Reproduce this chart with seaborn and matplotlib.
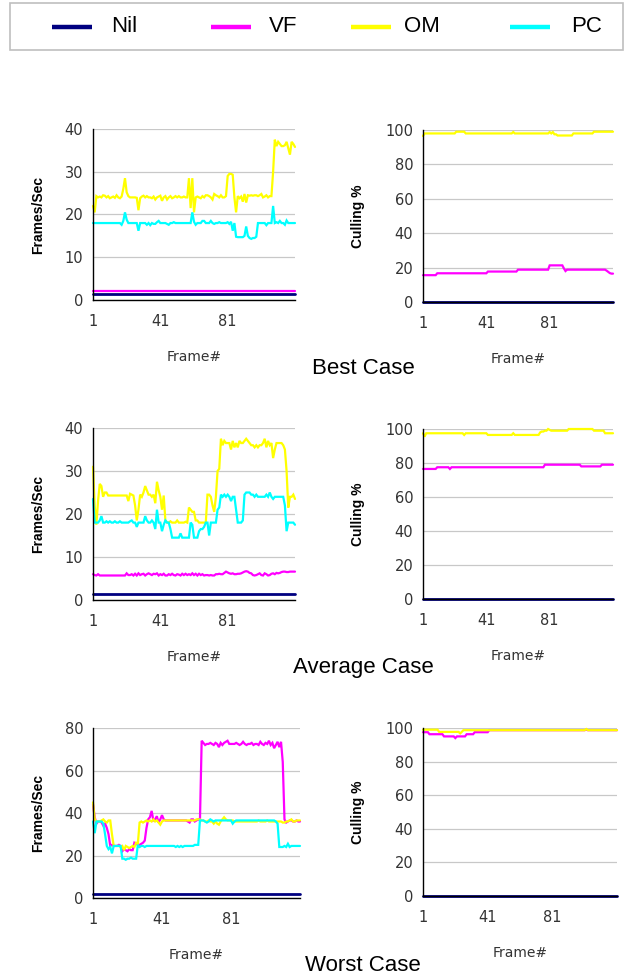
import numpy as np
import pandas as pd
import matplotlib
matplotlib.use("Agg")
import matplotlib.pyplot as plt
from matplotlib.lines import Line2D
from matplotlib.patches import Rectangle
import seaborn as sns

# ---------------- data ----------------
methods = ["Nil", "VF", "OM", "PC"]
colors = {"Nil": "#000080", "VF": "#FF00FF", "OM": "#FFFF00", "PC": "#00FFFF"}
x_ticks = [1, 21, 41, 61, 81, 101, 121]
x_tick_labels = ["1", "", "41", "", "81", "", ""]
case_titles = ["Best Case", "Average Case", "Worst Case"]

best_fps_nil = [
    1.5, 1.5, 1.5, 1.5, 1.5, 1.5, 1.5, 1.5, 1.5, 1.5,
    1.5, 1.5, 1.5, 1.5, 1.5, 1.5, 1.5, 1.5, 1.5, 1.5,
    1.5, 1.5, 1.5, 1.5, 1.5, 1.5, 1.5, 1.5, 1.5, 1.5,
    1.5, 1.5, 1.5, 1.5, 1.5, 1.5, 1.5, 1.5, 1.5, 1.5,
    1.5, 1.5, 1.5, 1.5, 1.5, 1.5, 1.5, 1.5, 1.5, 1.5,
    1.5, 1.5, 1.5, 1.5, 1.5, 1.5, 1.5, 1.5, 1.5, 1.5,
    1.5, 1.5, 1.5, 1.5, 1.5, 1.5, 1.5, 1.5, 1.5, 1.5,
    1.5, 1.5, 1.5, 1.5, 1.5, 1.5, 1.5, 1.5, 1.5, 1.5,
    1.5, 1.5, 1.5, 1.5, 1.5, 1.5, 1.5, 1.5, 1.5, 1.5,
    1.5, 1.5, 1.5, 1.5, 1.5, 1.5, 1.5, 1.5, 1.5, 1.5,
    1.5, 1.5, 1.5, 1.5, 1.5, 1.5, 1.5, 1.5, 1.5, 1.5,
    1.5, 1.5, 1.5, 1.5, 1.5, 1.5, 1.5, 1.5, 1.5, 1.5,
    1.5]
best_fps_vf = [
    2.0, 2.0, 2.0, 2.0, 2.0, 2.0, 2.0, 2.0, 2.0, 2.0,
    2.0, 2.0, 2.0, 2.0, 2.0, 2.0, 2.0, 2.0, 2.0, 2.0,
    2.0, 2.0, 2.0, 2.0, 2.0, 2.0, 2.0, 2.0, 2.0, 2.0,
    2.0, 2.0, 2.0, 2.0, 2.0, 2.0, 2.0, 2.0, 2.0, 2.0,
    2.0, 2.0, 2.0, 2.0, 2.0, 2.0, 2.0, 2.0, 2.0, 2.0,
    2.0, 2.0, 2.0, 2.0, 2.0, 2.0, 2.0, 2.0, 2.0, 2.0,
    2.0, 2.0, 2.0, 2.0, 2.0, 2.0, 2.0, 2.0, 2.0, 2.0,
    2.0, 2.0, 2.0, 2.0, 2.0, 2.0, 2.0, 2.0, 2.0, 2.0,
    2.0, 2.0, 2.0, 2.0, 2.0, 2.0, 2.0, 2.0, 2.0, 2.0,
    2.0, 2.0, 2.0, 2.0, 2.0, 2.0, 2.0, 2.0, 2.0, 2.0,
    2.0, 2.0, 2.0, 2.0, 2.0, 2.0, 2.0, 2.0, 2.0, 2.0,
    2.0, 2.0, 2.0, 2.0, 2.0, 2.0, 2.0, 2.0, 2.0, 2.0,
    2.0]
best_fps_om = [
    22.0, 20.5, 24.3, 24.0, 24.2, 24.0, 24.5, 24.4, 24.0, 24.3,
    23.8, 24.0, 24.2, 23.9, 24.5, 24.0, 23.8, 24.2, 26.0, 28.5,
    25.2, 24.3, 24.0, 24.0, 24.0, 24.0, 23.9, 21.0, 23.8, 24.2,
    24.4, 24.0, 24.3, 24.0, 24.0, 23.8, 24.2, 23.5, 24.0, 24.2,
    24.4, 23.2, 24.0, 24.3, 23.5, 24.0, 24.3, 23.8, 24.0, 24.3,
    24.0, 24.3, 24.0, 24.0, 24.2, 24.0, 24.0, 28.5, 21.5, 28.5,
    20.5, 24.0, 24.2, 24.0, 23.8, 24.3, 24.0, 24.5, 24.5, 24.3,
    24.0, 23.5, 24.8, 24.5, 24.3, 24.0, 24.5, 24.0, 24.0, 24.3,
    29.0, 29.5, 29.5, 29.3, 24.0, 20.5, 24.3, 23.8, 24.2, 23.0,
    24.8, 22.8, 24.5, 24.4, 24.5, 24.4, 24.5, 24.5, 24.3, 24.5,
    24.8, 24.0, 24.2, 24.5, 24.0, 24.3, 24.3, 30.0, 37.5, 36.0,
    37.0, 36.5, 36.0, 36.0, 36.2, 37.0, 35.5, 34.0, 37.0, 36.5,
    35.8]
best_fps_pc = [
    18.0, 18.0, 18.0, 18.0, 18.0, 18.0, 18.0, 18.0, 18.0, 18.0,
    18.0, 18.0, 18.0, 18.0, 18.0, 18.0, 18.0, 17.6, 18.5, 20.5,
    18.8, 18.0, 18.0, 18.0, 18.0, 18.0, 18.0, 16.2, 18.0, 18.0,
    18.0, 18.0, 17.6, 18.0, 17.5, 18.0, 17.8, 17.8, 18.2, 18.5,
    18.0, 18.0, 18.0, 18.0, 17.8, 17.6, 18.0, 18.0, 18.2, 18.0,
    18.0, 18.0, 18.0, 18.0, 18.0, 18.0, 18.0, 18.0, 18.0, 20.5,
    18.3, 17.6, 18.0, 18.0, 18.0, 18.5, 18.5, 18.0, 18.0, 18.0,
    18.5, 18.0, 17.8, 18.0, 18.0, 18.2, 18.0, 18.0, 18.0, 18.0,
    18.2, 17.8, 18.3, 16.2, 18.0, 14.8, 14.7, 14.7, 14.7, 14.7,
    15.0, 17.2, 15.0, 14.5, 14.3, 14.5, 14.5, 14.8, 18.0, 18.0,
    18.0, 18.0, 18.0, 17.5, 18.0, 18.0, 18.0, 22.0, 18.0, 18.2,
    18.0, 18.5, 18.0, 18.0, 17.6, 18.6, 18.0, 18.0, 18.0, 18.0,
    18.0]

best_cull_nil = [
    0, 0, 0, 0, 0, 0, 0, 0, 0, 0,
    0, 0, 0, 0, 0, 0, 0, 0, 0, 0,
    0, 0, 0, 0, 0, 0, 0, 0, 0, 0,
    0, 0, 0, 0, 0, 0, 0, 0, 0, 0,
    0, 0, 0, 0, 0, 0, 0, 0, 0, 0,
    0, 0, 0, 0, 0, 0, 0, 0, 0, 0,
    0, 0, 0, 0, 0, 0, 0, 0, 0, 0,
    0, 0, 0, 0, 0, 0, 0, 0, 0, 0,
    0, 0, 0, 0, 0, 0, 0, 0, 0, 0,
    0, 0, 0, 0, 0, 0, 0, 0, 0, 0,
    0, 0, 0, 0, 0, 0, 0, 0, 0, 0,
    0, 0, 0, 0, 0, 0, 0, 0, 0, 0,
    0]
best_cull_vf = [
    15.6, 15.6, 15.6, 15.6, 15.6, 15.6, 15.6, 15.6, 15.6, 16.7,
    16.7, 16.7, 16.7, 16.7, 16.7, 16.7, 16.7, 16.7, 16.7, 16.7,
    16.7, 16.7, 16.7, 16.7, 16.7, 16.7, 16.7, 16.7, 16.7, 16.7,
    16.7, 16.7, 16.7, 16.7, 16.7, 16.7, 16.7, 16.7, 16.7, 16.7,
    16.7, 17.7, 17.7, 17.7, 17.7, 17.7, 17.7, 17.7, 17.7, 17.7,
    17.7, 17.7, 17.7, 17.7, 17.7, 17.7, 17.7, 17.7, 17.7, 17.7,
    18.8, 18.8, 18.8, 18.8, 18.8, 18.8, 18.8, 18.8, 18.8, 18.8,
    18.8, 18.8, 18.8, 18.8, 18.8, 18.8, 18.8, 18.8, 18.8, 18.8,
    21.3, 21.3, 21.3, 21.3, 21.3, 21.3, 21.3, 21.3, 21.3, 19.5,
    18.0, 18.8, 18.8, 18.8, 18.8, 18.8, 18.8, 18.8, 18.8, 18.8,
    18.8, 18.8, 18.8, 18.8, 18.8, 18.8, 18.8, 18.8, 18.8, 18.8,
    18.8, 18.8, 18.8, 18.8, 18.8, 18.8, 18.2, 17.5, 16.8, 16.5,
    16.5]
best_cull_om = [
    96.5, 98.0, 98.0, 98.0, 98.0, 98.0, 98.0, 98.0, 98.0, 98.0,
    98.0, 98.0, 98.0, 98.0, 98.0, 98.0, 98.0, 98.0, 98.0, 98.0,
    98.0, 99.0, 99.0, 99.0, 99.0, 99.0, 99.0, 98.0, 98.0, 98.0,
    98.0, 98.0, 98.0, 98.0, 98.0, 98.0, 98.0, 98.0, 98.0, 98.0,
    98.0, 98.0, 98.0, 98.0, 98.0, 98.0, 98.0, 98.0, 98.0, 98.0,
    98.0, 98.0, 98.0, 98.0, 98.0, 98.0, 98.0, 98.8, 98.0, 98.0,
    98.0, 98.0, 98.0, 98.0, 98.0, 98.0, 98.0, 98.0, 98.0, 98.0,
    98.0, 98.0, 98.0, 98.0, 98.0, 98.0, 98.0, 98.0, 98.0, 98.0,
    98.8, 98.0, 98.8, 97.5, 97.5, 96.8, 96.8, 96.8, 96.8, 96.8,
    96.8, 96.8, 96.8, 96.8, 96.8, 98.0, 98.0, 98.0, 98.0, 98.0,
    98.0, 98.0, 98.0, 98.0, 98.0, 98.0, 98.0, 98.0, 99.0, 99.0,
    99.0, 99.0, 99.0, 99.0, 99.0, 99.0, 99.0, 99.0, 99.0, 99.0,
    99.0]

avg_fps_nil = [
    1.3, 1.3, 1.3, 1.3, 1.3, 1.3, 1.3, 1.3, 1.3, 1.3,
    1.3, 1.3, 1.3, 1.3, 1.3, 1.3, 1.3, 1.3, 1.3, 1.3,
    1.3, 1.3, 1.3, 1.3, 1.3, 1.3, 1.3, 1.3, 1.3, 1.3,
    1.3, 1.3, 1.3, 1.3, 1.3, 1.3, 1.3, 1.3, 1.3, 1.3,
    1.3, 1.3, 1.3, 1.3, 1.3, 1.3, 1.3, 1.3, 1.3, 1.3,
    1.3, 1.3, 1.3, 1.3, 1.3, 1.3, 1.3, 1.3, 1.3, 1.3,
    1.3, 1.3, 1.3, 1.3, 1.3, 1.3, 1.3, 1.3, 1.3, 1.3,
    1.3, 1.3, 1.3, 1.3, 1.3, 1.3, 1.3, 1.3, 1.3, 1.3,
    1.3, 1.3, 1.3, 1.3, 1.3, 1.3, 1.3, 1.3, 1.3, 1.3,
    1.3, 1.3, 1.3, 1.3, 1.3, 1.3, 1.3, 1.3, 1.3, 1.3,
    1.3, 1.3, 1.3, 1.3, 1.3, 1.3, 1.3, 1.3, 1.3, 1.3,
    1.3, 1.3, 1.3, 1.3, 1.3, 1.3, 1.3, 1.3, 1.3, 1.3,
    1.3]
avg_fps_vf = [
    6.0, 5.8, 5.7, 6.0, 5.7, 5.7, 5.7, 5.7, 5.7, 5.7,
    5.7, 5.7, 5.7, 5.7, 5.7, 5.7, 5.7, 5.7, 5.7, 5.7,
    6.2, 5.8, 5.8, 6.0, 5.7, 6.1, 5.7, 6.2, 5.8, 6.0,
    6.1, 5.7, 6.0, 6.2, 6.0, 5.8, 6.1, 6.0, 6.2, 5.7,
    6.0, 5.8, 6.1, 5.7, 5.7, 6.0, 5.8, 6.1, 5.8, 5.7,
    6.0, 5.9, 5.7, 6.1, 5.8, 6.1, 5.8, 6.0, 5.8, 6.2,
    5.8, 6.1, 5.7, 6.1, 5.8, 6.0, 5.7, 5.8, 5.8, 5.7,
    5.8, 5.7, 5.7, 6.0, 6.0, 6.1, 6.0, 6.0, 6.3, 6.6,
    6.4, 6.2, 6.1, 6.2, 6.0, 6.0, 6.1, 6.1, 6.2, 6.4,
    6.6, 6.7, 6.6, 6.3, 6.2, 5.8, 5.7, 5.8, 6.0, 6.2,
    5.8, 5.7, 6.2, 6.0, 5.7, 5.8, 6.1, 6.2, 6.0, 6.3,
    6.2, 6.3, 6.5, 6.6, 6.6, 6.5, 6.5, 6.6, 6.6, 6.6,
    6.6]
avg_fps_om = [
    31.0, 22.0, 17.5, 23.0, 27.0, 26.5, 24.0, 25.0, 25.0, 24.3,
    24.3, 24.3, 24.3, 24.3, 24.3, 24.3, 24.3, 24.3, 24.3, 24.3,
    24.3, 23.0, 24.7, 24.5, 24.3, 22.0, 18.5, 21.0, 24.5, 24.0,
    25.0, 26.5, 25.5, 24.5, 24.5, 24.0, 24.5, 22.5, 27.5, 25.5,
    24.0, 21.0, 24.3, 18.5, 18.0, 18.0, 18.3, 18.0, 18.0, 18.0,
    18.5, 18.0, 18.0, 18.0, 18.0, 18.2, 18.0, 21.5, 21.0, 20.5,
    20.5, 18.5, 18.5, 18.0, 18.0, 18.0, 18.0, 18.0, 24.5, 24.5,
    24.0, 22.0, 20.5, 24.0, 30.0, 30.5, 37.5, 36.0, 37.0, 36.5,
    36.5, 36.5, 35.0, 37.0, 35.5, 36.5, 35.5, 37.0, 36.5, 36.5,
    37.0, 37.5, 37.0, 36.5, 36.0, 36.0, 35.5, 36.0, 35.5, 36.0,
    36.0, 36.5, 37.5, 35.5, 37.0, 36.0, 36.5, 33.0, 35.0, 36.5,
    36.5, 36.5, 36.5, 36.0, 35.0, 30.0, 21.5, 24.0, 24.0, 24.5,
    23.5]
avg_fps_pc = [
    23.5, 18.0, 18.0, 18.0, 18.5, 19.5, 18.0, 18.0, 18.3, 18.0,
    18.3, 18.0, 18.0, 18.3, 18.0, 18.0, 18.3, 18.0, 18.0, 18.0,
    18.0, 18.0, 18.3, 18.5, 18.0, 18.0, 17.0, 18.0, 18.0, 18.0,
    18.0, 19.5, 18.5, 18.0, 18.0, 18.5, 18.0, 16.5, 21.0, 18.0,
    18.0, 16.0, 17.5, 18.5, 18.0, 18.0, 16.5, 14.5, 14.5, 14.5,
    14.5, 14.5, 15.5, 14.5, 14.5, 14.5, 14.5, 14.5, 18.0, 17.5,
    14.5, 14.5, 14.5, 16.0, 16.5, 16.5, 17.0, 18.0, 18.0, 15.0,
    18.0, 18.0, 18.0, 18.0, 21.0, 21.5, 24.5, 24.0, 24.5, 24.0,
    24.5, 24.0, 23.0, 24.0, 24.0, 21.0, 18.0, 18.0, 18.0, 18.5,
    24.5, 25.0, 25.0, 25.0, 24.5, 24.5, 24.0, 24.5, 24.0, 24.0,
    24.0, 24.0, 24.0, 24.5, 24.0, 25.0, 24.0, 23.5, 24.0, 24.0,
    24.0, 24.0, 24.0, 24.0, 22.0, 16.0, 18.0, 18.0, 18.0, 18.0,
    17.5]

avg_cull_nil = [
    0, 0, 0, 0, 0, 0, 0, 0, 0, 0,
    0, 0, 0, 0, 0, 0, 0, 0, 0, 0,
    0, 0, 0, 0, 0, 0, 0, 0, 0, 0,
    0, 0, 0, 0, 0, 0, 0, 0, 0, 0,
    0, 0, 0, 0, 0, 0, 0, 0, 0, 0,
    0, 0, 0, 0, 0, 0, 0, 0, 0, 0,
    0, 0, 0, 0, 0, 0, 0, 0, 0, 0,
    0, 0, 0, 0, 0, 0, 0, 0, 0, 0,
    0, 0, 0, 0, 0, 0, 0, 0, 0, 0,
    0, 0, 0, 0, 0, 0, 0, 0, 0, 0,
    0, 0, 0, 0, 0, 0, 0, 0, 0, 0,
    0, 0, 0, 0, 0, 0, 0, 0, 0, 0,
    0]
avg_cull_vf = [
    76.5, 76.5, 76.5, 76.5, 76.5, 76.5, 76.5, 76.5, 76.5, 77.5,
    77.5, 77.5, 77.5, 77.5, 77.5, 77.5, 77.5, 76.5, 77.5, 77.5,
    77.5, 77.5, 77.5, 77.5, 77.5, 77.5, 77.5, 77.5, 77.5, 77.5,
    77.5, 77.5, 77.5, 77.5, 77.5, 77.5, 77.5, 77.5, 77.5, 77.5,
    77.5, 77.5, 77.5, 77.5, 77.5, 77.5, 77.5, 77.5, 77.5, 77.5,
    77.5, 77.5, 77.5, 77.5, 77.5, 77.5, 77.5, 77.5, 77.5, 77.5,
    77.5, 77.5, 77.5, 77.5, 77.5, 77.5, 77.5, 77.5, 77.5, 77.5,
    77.5, 77.5, 77.5, 77.5, 77.5, 77.5, 77.5, 79.0, 79.0, 79.0,
    79.0, 79.0, 79.0, 79.0, 79.0, 79.0, 79.0, 79.0, 79.0, 79.0,
    79.0, 79.0, 79.0, 79.0, 79.0, 79.0, 79.0, 79.0, 79.0, 79.0,
    78.0, 78.0, 78.0, 78.0, 78.0, 78.0, 78.0, 78.0, 78.0, 78.0,
    78.0, 78.0, 78.0, 79.0, 79.0, 79.0, 79.0, 79.0, 79.0, 79.0,
    79.0]
avg_cull_om = [
    97.5, 95.5, 97.5, 97.5, 97.5, 97.5, 97.5, 97.5, 97.5, 97.5,
    97.5, 97.5, 97.5, 97.5, 97.5, 97.5, 97.5, 97.5, 97.5, 97.5,
    97.5, 97.5, 97.5, 97.5, 97.5, 97.5, 96.5, 97.5, 97.5, 97.5,
    97.5, 97.5, 97.5, 97.5, 97.5, 97.5, 97.5, 97.5, 97.5, 97.5,
    97.5, 96.5, 96.5, 96.5, 96.5, 96.5, 96.5, 96.5, 96.5, 96.5,
    96.5, 96.5, 96.5, 96.5, 96.5, 96.5, 96.5, 97.5, 96.5, 96.5,
    96.5, 96.5, 96.5, 96.5, 96.5, 96.5, 96.5, 96.5, 96.5, 96.5,
    96.5, 96.5, 96.5, 96.5, 98.0, 98.5, 98.5, 99.0, 99.0, 100.0,
    99.5, 99.0, 99.0, 99.0, 99.0, 99.0, 99.0, 99.0, 99.0, 99.0,
    99.0, 99.0, 100.0, 100.0, 100.0, 100.0, 100.0, 100.0, 100.0, 100.0,
    100.0, 100.0, 100.0, 100.0, 100.0, 100.0, 100.0, 100.0, 99.0, 99.0,
    99.0, 99.0, 99.0, 99.0, 99.0, 97.5, 97.5, 97.5, 97.5, 97.5,
    97.5]

worst_fps_nil = [
    2.0, 2.0, 2.0, 2.0, 2.0, 2.0, 2.0, 2.0, 2.0, 2.0,
    2.0, 2.0, 2.0, 2.0, 2.0, 2.0, 2.0, 2.0, 2.0, 2.0,
    2.0, 2.0, 2.0, 2.0, 2.0, 2.0, 2.0, 2.0, 2.0, 2.0,
    2.0, 2.0, 2.0, 2.0, 2.0, 2.0, 2.0, 2.0, 2.0, 2.0,
    2.0, 2.0, 2.0, 2.0, 2.0, 2.0, 2.0, 2.0, 2.0, 2.0,
    2.0, 2.0, 2.0, 2.0, 2.0, 2.0, 2.0, 2.0, 2.0, 2.0,
    2.0, 2.0, 2.0, 2.0, 2.0, 2.0, 2.0, 2.0, 2.0, 2.0,
    2.0, 2.0, 2.0, 2.0, 2.0, 2.0, 2.0, 2.0, 2.0, 2.0,
    2.0, 2.0, 2.0, 2.0, 2.0, 2.0, 2.0, 2.0, 2.0, 2.0,
    2.0, 2.0, 2.0, 2.0, 2.0, 2.0, 2.0, 2.0, 2.0, 2.0,
    2.0, 2.0, 2.0, 2.0, 2.0, 2.0, 2.0, 2.0, 2.0, 2.0,
    2.0, 2.0, 2.0, 2.0, 2.0, 2.0, 2.0, 2.0, 2.0, 2.0,
    2.0]
worst_fps_vf = [
    44.0, 38.0, 35.0, 36.0, 36.0, 35.5, 34.0, 35.0, 33.0, 30.0,
    24.5, 25.0, 24.5, 24.5, 24.5, 25.0, 24.5, 22.0, 23.0, 22.5,
    22.0, 23.0, 22.5, 22.5, 26.0, 25.5, 25.0, 25.0, 25.5, 26.0,
    27.0, 33.0, 37.0, 38.0, 41.0, 36.5, 37.0, 38.5, 35.5, 37.0,
    39.0, 37.0, 36.5, 36.5, 36.5, 36.5, 36.5, 36.5, 36.5, 36.5,
    36.5, 36.5, 36.5, 36.5, 36.5, 36.0, 35.5, 37.0, 37.0, 36.0,
    36.5, 37.0, 36.5, 74.0, 73.0, 72.0, 72.5, 72.5, 73.0, 72.5,
    72.0, 73.0, 72.5, 71.0, 73.0, 72.0, 73.0, 73.5, 74.0, 72.5,
    72.5, 72.5, 72.5, 73.0, 72.5, 72.0, 72.5, 73.5, 72.5, 72.0,
    72.5, 72.5, 73.0, 72.0, 72.5, 72.5, 72.0, 73.5, 72.5, 72.0,
    73.0, 72.5, 74.0, 72.0, 73.0, 70.5, 72.0, 73.5, 71.0, 73.5,
    64.0, 37.0, 35.5, 36.0, 36.5, 36.5, 36.0, 36.0, 36.5, 36.0,
    36.0]
worst_fps_om = [
    45.0, 37.0, 36.0, 36.0, 36.0, 36.5, 37.0, 36.0, 35.5, 36.5,
    36.5, 30.0, 24.5, 24.5, 24.5, 24.5, 24.0, 24.5, 22.5, 24.5,
    24.0, 23.5, 24.0, 24.5, 24.0, 26.0, 25.5, 35.5, 36.0, 35.5,
    36.0, 36.5, 36.0, 36.5, 36.0, 37.0, 36.0, 36.5, 35.5, 34.5,
    36.0, 36.5, 36.5, 36.5, 36.5, 36.5, 36.5, 36.5, 36.5, 36.5,
    36.5, 36.5, 36.5, 36.5, 36.5, 36.5, 36.5, 36.5, 36.5, 36.5,
    37.0, 37.0, 37.0, 36.5, 36.5, 36.0, 36.0, 36.5, 36.0, 36.0,
    35.0, 36.0, 35.0, 34.5, 36.0, 37.0, 38.0, 37.0, 36.5, 36.5,
    36.5, 36.5, 36.0, 36.0, 36.0, 36.0, 36.0, 36.0, 36.0, 36.0,
    36.0, 36.0, 36.0, 36.0, 36.0, 36.0, 36.5, 36.0, 36.0, 36.0,
    36.0, 36.5, 36.0, 36.0, 36.0, 36.0, 36.0, 36.0, 36.0, 36.0,
    35.5, 35.5, 36.0, 36.0, 36.5, 37.0, 36.0, 36.0, 36.5, 36.5,
    36.5]
worst_fps_pc = [
    36.0, 30.5, 36.0, 36.0, 36.0, 36.0, 35.0, 30.0, 24.5, 23.0,
    24.0, 21.0, 24.5, 24.5, 24.5, 24.5, 24.5, 18.5, 18.5, 18.0,
    18.5, 18.5, 19.0, 18.5, 18.5, 18.5, 25.0, 24.0, 24.5, 24.5,
    24.0, 24.5, 24.5, 24.5, 24.5, 24.5, 24.5, 24.5, 24.5, 24.5,
    24.5, 24.5, 24.5, 24.5, 24.5, 24.5, 24.5, 24.5, 24.0, 24.5,
    24.0, 24.5, 24.0, 24.5, 24.5, 24.5, 24.5, 24.5, 24.5, 25.0,
    25.0, 25.0, 36.5, 36.5, 36.5, 36.0, 35.5, 36.0, 37.0, 36.5,
    36.0, 36.5, 36.5, 36.5, 36.5, 36.5, 36.5, 36.5, 36.5, 36.5,
    36.5, 35.0, 36.0, 36.5, 36.5, 36.5, 36.5, 36.5, 36.5, 36.5,
    36.5, 36.5, 36.5, 36.5, 36.5, 36.5, 36.5, 36.5, 36.5, 36.5,
    36.5, 36.5, 36.5, 36.5, 36.5, 36.5, 36.0, 35.0, 24.0, 24.0,
    24.0, 24.5, 24.0, 25.5, 24.0, 24.5, 24.5, 24.5, 24.5, 24.5,
    24.5]

worst_cull_nil = [
    0, 0, 0, 0, 0, 0, 0, 0, 0, 0,
    0, 0, 0, 0, 0, 0, 0, 0, 0, 0,
    0, 0, 0, 0, 0, 0, 0, 0, 0, 0,
    0, 0, 0, 0, 0, 0, 0, 0, 0, 0,
    0, 0, 0, 0, 0, 0, 0, 0, 0, 0,
    0, 0, 0, 0, 0, 0, 0, 0, 0, 0,
    0, 0, 0, 0, 0, 0, 0, 0, 0, 0,
    0, 0, 0, 0, 0, 0, 0, 0, 0, 0,
    0, 0, 0, 0, 0, 0, 0, 0, 0, 0,
    0, 0, 0, 0, 0, 0, 0, 0, 0, 0,
    0, 0, 0, 0, 0, 0, 0, 0, 0, 0,
    0, 0, 0, 0, 0, 0, 0, 0, 0, 0,
    0]
worst_cull_vf = [
    97.5, 97.5, 97.5, 97.5, 96.3, 96.3, 96.3, 96.3, 96.3, 96.3,
    96.3, 96.3, 96.3, 95.0, 95.0, 95.0, 95.0, 95.0, 95.0, 95.0,
    94.0, 95.0, 95.0, 95.0, 95.0, 95.0, 95.0, 96.3, 96.3, 96.3,
    96.3, 96.3, 97.5, 97.5, 97.5, 97.5, 97.5, 97.5, 97.5, 97.5,
    97.5, 98.7, 98.7, 98.7, 98.7, 98.7, 98.7, 98.7, 98.7, 98.7,
    98.7, 98.7, 98.7, 98.7, 98.7, 98.7, 98.7, 98.7, 98.7, 98.7,
    98.7, 98.7, 98.7, 98.7, 98.7, 98.7, 98.7, 98.7, 98.7, 98.7,
    98.7, 98.7, 98.7, 98.7, 98.7, 98.7, 98.7, 98.7, 98.7, 98.7,
    98.7, 98.7, 98.7, 98.7, 98.7, 98.7, 98.7, 98.7, 98.7, 98.7,
    98.7, 98.7, 98.7, 98.7, 98.7, 98.7, 98.7, 98.7, 98.7, 98.7,
    98.7, 99.0, 98.7, 98.7, 98.7, 98.7, 98.7, 98.7, 98.7, 98.7,
    98.7, 98.7, 98.7, 98.7, 98.7, 98.7, 98.7, 98.7, 98.7, 98.7,
    98.7]
worst_cull_om = [
    99.0, 99.0, 99.0, 99.0, 99.0, 99.0, 99.0, 99.0, 99.0, 99.0,
    97.7, 97.7, 97.7, 97.7, 97.7, 97.7, 97.7, 97.7, 97.7, 97.7,
    97.7, 97.7, 97.7, 96.8, 97.7, 98.7, 98.7, 98.7, 98.7, 98.7,
    98.7, 98.7, 98.7, 98.7, 98.7, 98.7, 98.7, 98.7, 98.7, 98.7,
    98.7, 98.7, 98.7, 98.7, 98.7, 98.7, 98.7, 98.7, 98.7, 98.7,
    98.7, 98.7, 98.7, 98.7, 98.7, 98.7, 98.7, 98.7, 98.7, 98.7,
    98.7, 98.7, 98.7, 98.7, 98.7, 98.7, 98.7, 98.7, 98.7, 98.7,
    98.7, 98.7, 98.7, 98.7, 98.7, 98.7, 98.7, 98.7, 98.7, 98.7,
    98.7, 98.7, 98.7, 98.7, 98.7, 98.7, 98.7, 98.7, 98.7, 98.7,
    98.7, 98.7, 98.7, 98.7, 98.7, 98.7, 98.7, 98.7, 98.7, 98.7,
    98.7, 99.4, 98.7, 98.7, 98.7, 98.7, 98.7, 98.7, 98.7, 98.7,
    98.7, 98.7, 98.7, 98.7, 98.7, 98.7, 98.7, 98.7, 98.7, 98.7,
    98.7]

# ---------------- figure ----------------
W, H = 632, 980
sns.set_theme(style="white")
plt.rcParams["font.family"] = ["DejaVu Sans"]
fig = plt.figure(figsize=(W / 100, H / 100), dpi=100)
fig.patch.set_facecolor("white")


def rect(px_left, px_top, px_right, px_bottom):
    return [px_left / W, 1 - px_bottom / H, (px_right - px_left) / W, (px_bottom - px_top) / H]


def long_df(series):
    frames = []
    for name, vals in series:
        frames.append(pd.DataFrame({"frame": np.arange(1, len(vals) + 1),
                                    "value": vals, "method": name}))
    return pd.concat(frames, ignore_index=True)


panels = [
    (rect(93, 129, 295, 300), [("Nil", best_fps_nil), ("VF", best_fps_vf), ("OM", best_fps_om), ("PC", best_fps_pc)], 40, 10, "Frames/Sec"),
    (rect(423, 130, 613, 302), [("Nil", best_cull_nil), ("VF", best_cull_vf), ("OM", best_cull_om)], 100, 20, "Culling %"),
    (rect(93, 428, 295, 600), [("Nil", avg_fps_nil), ("VF", avg_fps_vf), ("OM", avg_fps_om), ("PC", avg_fps_pc)], 40, 10, "Frames/Sec"),
    (rect(423, 429, 613, 599), [("Nil", avg_cull_nil), ("VF", avg_cull_vf), ("OM", avg_cull_om)], 100, 20, "Culling %"),
    (rect(93, 728, 300, 898), [("Nil", worst_fps_nil), ("VF", worst_fps_vf), ("OM", worst_fps_om), ("PC", worst_fps_pc)], 80, 20, "Frames/Sec"),
    (rect(423, 728, 617, 896), [("Nil", worst_cull_nil), ("VF", worst_cull_vf), ("OM", worst_cull_om)], 100, 20, "Culling %"),
]

for i, (r, series, ymax, ystep, ylabel) in enumerate(panels):
    ax = fig.add_axes(r)
    df = long_df(series)
    order = [s[0] for s in series]
    sns.lineplot(data=df, x="frame", y="value", hue="method", hue_order=order,
                 palette=colors, estimator=None, sort=False, legend=False,
                 linewidth=1.6, ax=ax)
    for ln in ax.get_lines():
        ln.set_clip_on(False)
        ln.set_solid_joinstyle("miter")
        if ln.get_color().lower() in ("#000080",):
            ln.set_linewidth(2.0)
    ax.set_xlim(1, 121)
    ax.set_ylim(0, ymax)
    ax.set_yticks(np.arange(0, ymax + 1, ystep))
    ax.set_xticks(x_ticks)
    ax.set_xticklabels(x_tick_labels)
    ax.yaxis.grid(True, color="#c8c8c8", linewidth=0.9)
    ax.xaxis.grid(False)
    ax.set_axisbelow(True)
    for side in ("top", "right"):
        ax.spines[side].set_visible(False)
    for side in ("left", "bottom"):
        ax.spines[side].set_color("black")
        ax.spines[side].set_linewidth(1.0)
    ax.tick_params(axis="both", direction="out", length=4, width=0.9, color="black",
                   labelcolor="#333333", labelsize=10.5, pad=3)
    ax.tick_params(axis="x", pad=6)
    ax.set_ylabel(ylabel, fontsize=10, fontweight="bold", family="Liberation Sans", color="black")
    ax.set_xlabel("Frame#", fontsize=10, color="#333333")
    wpx = r[2] * W
    if i % 2 == 0:
        ax.yaxis.set_label_coords((45 - 93) / wpx, 0.5)
    else:
        ax.yaxis.set_label_coords((365 - 423) / wpx, 0.5)
    ax.xaxis.set_label_coords(0.5, -50 / (r[3] * H))
    ax.set_facecolor("white")

# case titles
for title, ypx in zip(case_titles, [368, 668, 965]):
    fig.text(363 / W, 1 - ypx / H, title, ha="center", va="center",
             fontsize=16, family="Liberation Sans", color="black")

# legend box
fig.patches.append(Rectangle((10 / W, 1 - 50 / H), 613 / W, 47 / H, transform=fig.transFigure,
                             fill=False, edgecolor="#bfbfbf", linewidth=1.2))
leg_items = [("Nil", 52, 111), ("VF", 211, 269), ("OM", 351, 404), ("PC", 510, 571)]
for name, lx, tx in leg_items:
    fig.lines.append(Line2D([lx / W, (lx + 40) / W], [1 - 27 / H, 1 - 27 / H],
                            transform=fig.transFigure, color=colors[name], linewidth=3.2,
                            solid_capstyle="butt"))
    fig.text(tx / W, 1 - 27 / H, name, ha="left", va="center", fontsize=16,
             family="Liberation Sans", color="black")

fig.savefig("out.png", dpi=100, facecolor="white")
